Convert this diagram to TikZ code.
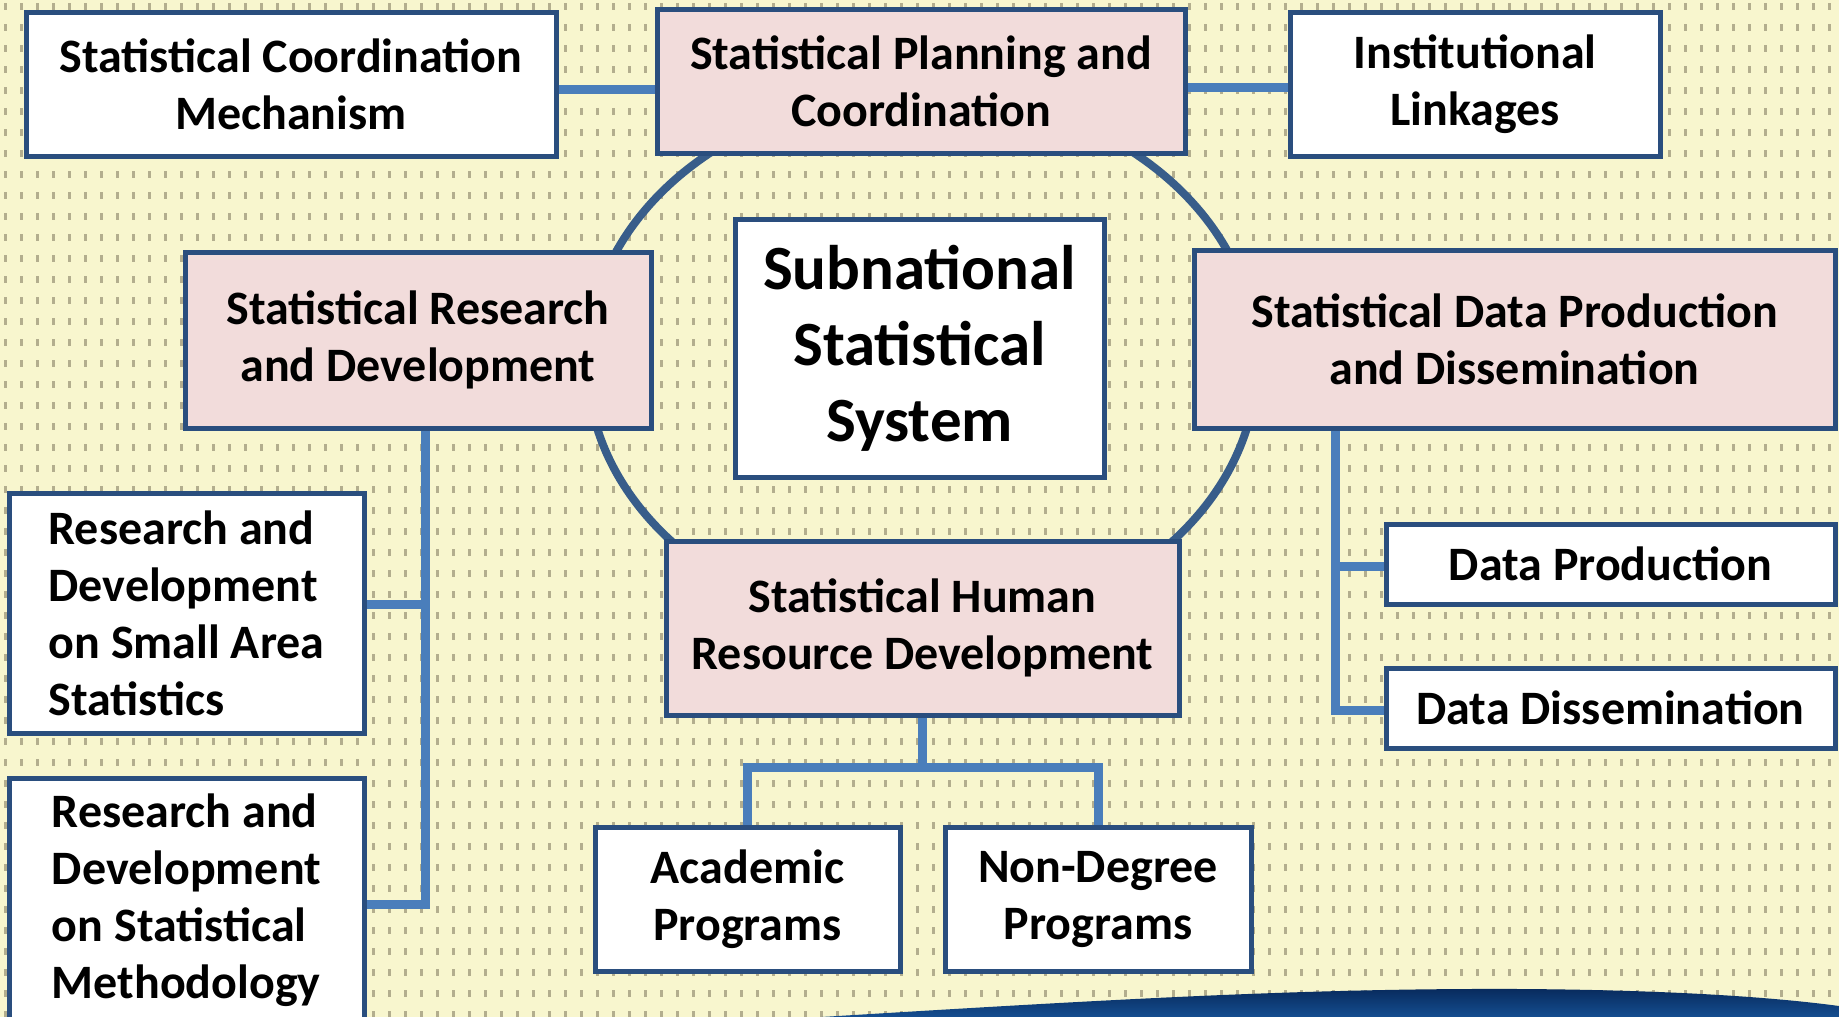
\documentclass[tikz,border=0pt]{standalone}
\usepackage{fontspec}
\setmainfont{Carlito}
\usetikzlibrary{calc}
\definecolor{bgc}{HTML}{F8F6CE}
\definecolor{dotc}{HTML}{B3AE8E}
\definecolor{bordc}{HTML}{2A4E7E}
\definecolor{ellc}{HTML}{385D8A}
\definecolor{connc}{HTML}{4A7EBB}
\definecolor{pinkc}{HTML}{F2DCDB}
\definecolor{navytop}{HTML}{082A5C}
\definecolor{navybot}{HTML}{154F92}
\tikzset{
  box/.style={draw=bordc, line width=5pt, fill=white, align=center, inner sep=0pt,
    font=\bfseries\fontsize{48}{57}\selectfont},
  pinkbox/.style={box, fill=pinkc},
  conn/.style={draw=connc, line width=9pt, line join=miter},
}
\begin{document}
\begin{tikzpicture}[x=1pt,y=-1pt]
\useasboundingbox (0,0) rectangle (1839,1017);
\clip (0,0) rectangle (1839,1017);
% background
\fill[bgc] (0,0) rectangle (1839,1017);
\foreach \yy in {6,27,...,1017}
  \draw[dotc, line width=7pt, dash pattern=on 2.5pt off 13.5pt] (4,\yy) -- (1839,\yy);
% bottom swoosh
\shade[top color=navytop, bottom color=navybot] (805,1018) .. controls (1100,1000) and (1300,988) .. (1520,989) .. controls (1680,990) and (1780,998) .. (1839,1006) -- (1839,1018) -- cycle;
% ellipse
\draw[ellc, line width=8pt] (922,362) ellipse [x radius=335, y radius=270];
% nodes
\node[box, minimum width=530pt, minimum height=144pt] (SCM) at (291,84) {Statistical Coordination\\Mechanism};
\node[pinkbox, minimum width=528pt, minimum height=144pt] (SPC) at (921,81) {Statistical Planning and\\Coordination};
\node[box, minimum width=370pt, minimum height=144pt] (IL) at (1475,84) {Institutional\\Linkages};
\node[pinkbox, minimum width=466pt, minimum height=176pt] (SRD) at (418,340) {Statistical Research\\and Development};
\node[box, minimum width=369pt, minimum height=258pt, font=\bfseries\fontsize{63}{76}\selectfont] (SNS) at (919.5,348) {Subnational\\Statistical\\System};
\node[pinkbox, minimum width=641pt, minimum height=178pt] (SDPD) at (1514.5,339) {Statistical Data Production\\and Dissemination};
\node[pinkbox, minimum width=513pt, minimum height=174pt] (SHRD) at (922.5,628) {Statistical Human\\Resource Development};
\node[box, align=left, minimum width=355pt, minimum height=240pt] (RDSA) at (186.5,613) {Research and\\Development\\on Small Area\\Statistics};
\node[box, align=left, minimum width=355pt, minimum height=244pt] (RDSM) at (186.5,900) {Research and\\Development\\on Statistical\\Methodology};
\node[box, minimum width=449pt, minimum height=80pt] (DP) at (1610.5,564) {Data Production};
\node[box, minimum width=449pt, minimum height=80pt] (DD) at (1610.5,708) {Data Dissemination};
\node[box, minimum width=305pt, minimum height=144pt] (AP) at (747.5,899) {Academic\\Programs};
\node[box, minimum width=306pt, minimum height=144pt] (ND) at (1098,899) {Non-Degree\\Programs};
% connectors
\draw[conn] ([yshift=-5pt]SCM.east) -- ([yshift=-5pt]SCM.east -| SPC.west);
\draw[conn] ([yshift=-6pt]SPC.east) -- ([yshift=-6pt]SPC.east -| IL.west);
\coordinate (tL) at ([xshift=7pt]SRD.south);
\draw[conn] (tL) |- ([yshift=-4pt]RDSM.east);
\draw[conn] ([yshift=9pt]RDSA.east) -- ([yshift=9pt]RDSA.east -| tL);
\coordinate (tR) at ([xshift=144pt]SDPD.south west);
\draw[conn] (tR) |- ([yshift=-2pt]DD.west);
\draw[conn] ([yshift=-2pt]DP.west) -- ([yshift=-2pt]DP.west -| tR);
\coordinate (hb) at ([yshift=-50pt]SHRD.south);
\draw[conn] (SHRD.south) -- (hb);
\draw[conn] (AP.north) |- (hb) -| (ND.north);
\end{tikzpicture}
\end{document}
